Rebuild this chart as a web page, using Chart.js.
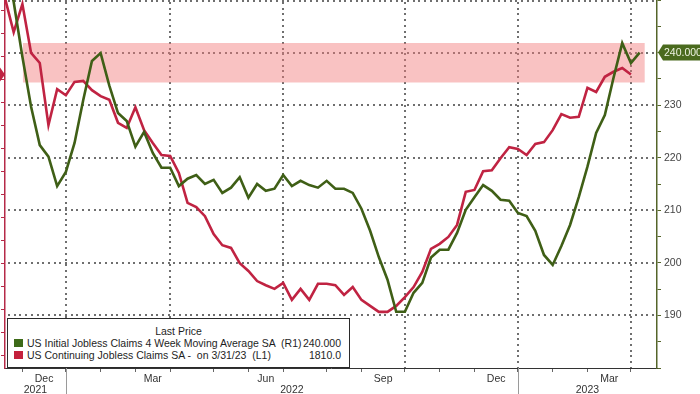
<!DOCTYPE html>
<html><head><meta charset="utf-8">
<script src="https://cdn.jsdelivr.net/npm/chart.js@4.4.0/dist/chart.umd.min.js"></script>
<style>
html,body{margin:0;padding:0;background:#fff;}
#wrap{position:relative;width:700px;height:394px;overflow:hidden;background:#fff;}
#legend{position:absolute;left:7px;top:318px;width:343px;height:50px;border:1px solid #2a2a2a;background:#fff;box-sizing:border-box;
  font-family:'Liberation Sans',Arial,sans-serif;font-size:10.5px;color:#1e1e1e;}
#legend .t{position:absolute;left:0;right:0;top:6px;text-align:center;line-height:12px;}
#legend .r{position:absolute;left:5px;right:8px;height:12px;line-height:12px;}
#legend .r i{position:absolute;left:1px;top:2px;width:9px;height:8px;}
#legend .r .n{position:absolute;left:14px;white-space:pre;}
#legend .r .v{position:absolute;right:0;}
</style>
</head><body>
<div id="wrap">
<canvas id="c" width="700" height="394"></canvas>
<div id="legend">
  <div class="t">Last Price</div>
  <div class="r" style="top:18px"><i style="background:#3d6a18"></i><span class="n" id="n1"></span><span class="v" id="v1"></span></div>
  <div class="r" style="top:30px"><i style="background:#c4203c"></i><span class="n" id="n2"></span><span class="v" id="v2"></span></div>
</div>
</div>
<script>
// ---- data (weekly, Friday dates) ----
const dates = [
 '2021-11-12','2021-11-19','2021-11-26','2021-12-03','2021-12-10','2021-12-17','2021-12-24','2021-12-31',
 '2022-01-07','2022-01-14','2022-01-21','2022-01-28','2022-02-04','2022-02-11','2022-02-18','2022-02-25',
 '2022-03-04','2022-03-11','2022-03-18','2022-03-25','2022-04-01','2022-04-08','2022-04-15','2022-04-22','2022-04-29',
 '2022-05-06','2022-05-13','2022-05-20','2022-05-27','2022-06-03','2022-06-10','2022-06-17','2022-06-24',
 '2022-07-01','2022-07-08','2022-07-15','2022-07-22','2022-07-29','2022-08-05','2022-08-12','2022-08-19','2022-08-26',
 '2022-09-02','2022-09-09','2022-09-16','2022-09-23','2022-09-30','2022-10-07','2022-10-14','2022-10-21','2022-10-28',
 '2022-11-04','2022-11-11','2022-11-18','2022-11-25','2022-12-02','2022-12-09','2022-12-16','2022-12-23','2022-12-30',
 '2023-01-06','2023-01-13','2023-01-20','2023-01-27','2023-02-03','2023-02-10','2023-02-17','2023-02-24',
 '2023-03-03','2023-03-10','2023-03-17','2023-03-24','2023-03-31','2023-04-07'
];
// US Initial Jobless Claims 4 Week Moving Average SA (thousands, right axis)
const initialClaims4wk = [
 257.6,249.6,239.2,229.7,222.4,220.2,214.6,217.3,222.8,231.0,238.4,239.9,233.7,228.5,227.0,222.1,
 224.9,220.9,218.1,218.1,214.6,216.0,216.7,215.0,215.8,213.3,214.3,216.3,212.4,215.0,213.7,214.1,
 216.7,214.6,215.6,214.8,214.3,215.6,214.1,214.1,213.3,210.3,206.1,201.1,196.8,190.7,190.7,194.3,
 196.2,201.0,202.5,202.5,205.7,210.1,212.5,214.8,213.7,212.0,211.8,209.5,208.9,206.1,201.5,199.6,
 203.2,207.2,212.5,218.3,224.7,228.1,235.2,241.8,238.0,240.0
];
// US Continuing Jobless Claims SA (thousands, left axis)
const continuingClaims = [
 1976,1902,1963,1857,1835,1700,1778,1765,1794,1796,1776,1763,1755,1705,1694,1739,
 1689,1661,1635,1633,1596,1531,1522,1502,1463,1439,1433,1400,1383,1361,1352,1344,
 1357,1320,1344,1320,1355,1355,1352,1331,1348,1320,1307,1294,1294,1307,1326,1348,
 1381,1431,1442,1457,1483,1555,1559,1600,1602,1628,1652,1648,1635,1659,1663,1689,
 1724,1716,1718,1781,1772,1805,1816,1824,1810
];
const seriesNames = ['US Initial Jobless Claims 4 Week Moving Average SA', 'US Continuing Jobless Claims SA'];
const monthLabelKeys = ['2021-12','2022-03','2022-06','2022-09','2022-12','2023-03'];
const monthLabelText = ['Dec','Mar','Jun','Sep','Dec','Mar'];
const yearLabelText = ['2021','2022','2023'];
const rightTickValues = [180,185,190,195,200,205,210,215,220,225,230,235,240,245,250];
const rightTickLabels = ['','','190','','200','','210','','220','','230','','','',''];
const rightGridValues = [190,200,210,220,230,240,250];
const leftTickValues = [1200,1250,1300,1350,1400,1450,1500,1550,1600,1650,1700,1750,1800,1850,1900,1950];
const bandValues = [234.3, 241.8];   // right-axis range of the shaded band
const bandSpan = [2.05, 73.6];       // x extent of the band (week index)

// ---- derived ----
const X_MIN = 0, X_MAX = 75;
const GREEN = '#3f5f16', RED = '#c02342';
const mk = d => d.slice(0,7);
const monthEnds = [];
for (let i = 0; i < dates.length - 1; i++) if (mk(dates[i]) !== mk(dates[i+1])) monthEnds.push(i);
const yearEnds = monthEnds.filter(i => dates[i].slice(5,7) === '12');
const quarterEnds = monthEnds.filter(i => (+dates[i].slice(5,7)) % 3 === 0);
const xTicks = [];
monthEnds.forEach(i => xTicks.push({value: i, kind: 'm', lbl: ''}));
monthLabelKeys.forEach((k, j) => {
  const p = monthEnds.findIndex(i => mk(dates[i]) === k);
  const prev = p > 0 ? monthEnds[p-1] : X_MIN;
  xTicks.push({value: (prev + monthEnds[p]) / 2, kind: 'lab', lbl: monthLabelText[j]});
});
const yb = [X_MIN, ...yearEnds, X_MAX];
yearLabelText.forEach((y, j) => xTicks.push({value: (yb[j] + yb[j+1]) / 2, kind: 'lab', lbl: ['', y]}));
xTicks.sort((a, b) => a.value - b.value);

const gLast = initialClaims4wk[initialClaims4wk.length-1];
const rLast = continuingClaims[continuingClaims.length-1];
const rDate = dates[continuingClaims.length-1].split('-');
document.getElementById('n1').textContent = seriesNames[0] + '  (R1)';
document.getElementById('n2').textContent = seriesNames[1] + ' -  on ' + (+rDate[1]) + '/' + (+rDate[2]) + '/' + rDate[0].slice(2) + '  (L1)';
document.getElementById('v1').textContent = gLast.toFixed(3);
document.getElementById('v2').textContent = rLast.toFixed(1);

Chart.defaults.font.family = "'Liberation Sans', Arial, sans-serif";
Chart.defaults.font.size = 10.5;
Chart.defaults.color = '#333';

const zeroPad = s => { s.paddingTop = 0; s.paddingBottom = 0; s.paddingLeft = 0; s.paddingRight = 0; };

const decor = {
  id: 'decor',
  afterDraw(chart) {
    const ctx = chart.ctx, ca = chart.chartArea;
    const xS = chart.scales.x, yS = chart.scales.y, yL = chart.scales.yL;
    const L = Number(ca.left), R = Number(ca.right), T = Number(ca.top), B = Number(ca.bottom);
    const rows = rightGridValues.map(v => Math.max(Math.round(Number(yS.getPixelForValue(v))) - 1, Math.round(T)));
    ctx.save();
    // dotted grid, painted underneath the already drawn series
    ctx.globalCompositeOperation = 'destination-over';
    ctx.fillStyle = '#6f6f6f';
    const nx = Math.floor((R - L - 4) / 5.7);
    rows.forEach(yi => {
      for (let k = 0; k <= nx; k++) ctx.fillRect(Math.round(L + 3 + k * 5.7), yi, 2, 2);
    });
    const ny = Math.floor((B - T - 3) / 5.7);
    quarterEnds.forEach(i => {
      const xi = Math.round(Number(xS.getPixelForValue(i))) - 1;
      for (let k = 0; k <= ny; k++) ctx.fillRect(xi, Math.round(T + 2 + k * 5.7), 2, 2);
    });
    ctx.globalCompositeOperation = 'source-over';
    // year separators under the x axis
    ctx.fillStyle = '#9a9a9a';
    yearEnds.forEach(i => {
      const px = Math.round(xS.getPixelForValue(i));
      ctx.fillRect(px, B, 1, chart.height - B);
    });
    // right last-value box
    const gy = yS.getPixelForValue(gLast);
    const bx = R + 1;
    ctx.fillStyle = '#4a6a1e';
    ctx.beginPath(); ctx.moveTo(bx, gy); ctx.lineTo(bx + 5, gy - 8); ctx.lineTo(chart.width, gy - 8);
    ctx.lineTo(chart.width, gy + 8); ctx.lineTo(bx + 5, gy + 8); ctx.closePath(); ctx.fill();
    ctx.fillStyle = '#eef3e2'; ctx.font = "10.5px 'Liberation Sans', Arial, sans-serif";
    ctx.textBaseline = 'middle'; ctx.textAlign = 'left';
    ctx.fillText(gLast.toFixed(3), bx + 6, gy + 0.5);
    // left last-value marker (mostly off canvas)
    const ry = yL.getPixelForValue(rLast);
    ctx.fillStyle = RED;
    ctx.beginPath(); ctx.moveTo(L, ry); ctx.lineTo(L - 5, ry - 7); ctx.lineTo(-5, ry - 7);
    ctx.lineTo(-5, ry + 7); ctx.lineTo(L - 5, ry + 7); ctx.closePath(); ctx.fill();
    ctx.restore();
  }
};

new Chart(document.getElementById('c'), {
  type: 'line',
  data: {
    datasets: [
      { label: seriesNames[0], data: initialClaims4wk.map((v, i) => ({x: i, y: v})), yAxisID: 'y',
        borderColor: GREEN, borderWidth: 2.6, pointRadius: 0, tension: 0, fill: false },
      { label: seriesNames[1], data: continuingClaims.map((v, i) => ({x: i, y: v})), yAxisID: 'yL',
        borderColor: RED, borderWidth: 2.6, pointRadius: 0, tension: 0, fill: false },
      { label: 'band', data: [{x: bandSpan[0], y: bandValues[1]}, {x: bandSpan[1], y: bandValues[1]}], yAxisID: 'y',
        borderWidth: 0, borderColor: 'rgba(0,0,0,0)', pointRadius: 0, backgroundColor: 'rgba(242,120,120,0.45)',
        fill: {value: bandValues[0]} }
    ]
  },
  options: {
    responsive: false, animation: false, devicePixelRatio: 1,
    layout: {padding: 0},
    plugins: {legend: {display: false}, tooltip: {enabled: false}},
    scales: {
      x: {
        type: 'linear', min: X_MIN, max: X_MAX, position: 'bottom',
        afterBuildTicks: s => { s.ticks = xTicks.map(t => Object.assign({}, t)); },
        afterFit: s => { s.height = 26; zeroPad(s); },
        ticks: { autoSkip: false, maxRotation: 0, minRotation: 0, padding: 1, color: '#333',
          font: {size: 10.5, lineHeight: 1.1},
          callback: (v, i, ticks) => ticks[i].lbl },
        grid: {
          drawOnChartArea: false, drawTicks: true, tickLength: 4, lineWidth: 1,
          tickColor: c => (c.tick && c.tick.kind === 'm') ? '#666' : 'rgba(0,0,0,0)'
        },
        border: {display: true, color: '#333', width: 1}
      },
      y: {
        type: 'linear', position: 'right', min: 180, max: 250,
        afterBuildTicks: s => { s.ticks = rightTickValues.map(v => ({value: v})); },
        afterFit: s => { s.width = 43; zeroPad(s); },
        ticks: { padding: 3, color: '#444', font: {size: 10.5},
          callback: (v, i) => rightTickLabels[i] },
        grid: { drawOnChartArea: false, drawTicks: true, tickLength: 4, lineWidth: 1, tickColor: '#55652a' },
        border: {display: true, color: '#55652a', width: 1.5}
      },
      yL: {
        type: 'linear', position: 'left', min: 1172, max: 1972,
        afterBuildTicks: s => { s.ticks = leftTickValues.map(v => ({value: v})); },
        afterFit: s => { s.width = 5; zeroPad(s); },
        ticks: { display: false },
        grid: { drawOnChartArea: false, drawTicks: true, tickLength: 4, tickColor: '#b52a48' },
        border: {display: true, color: '#b52a48', width: 1.5}
      }
    }
  },
  plugins: [decor]
});
</script>
</body></html>
